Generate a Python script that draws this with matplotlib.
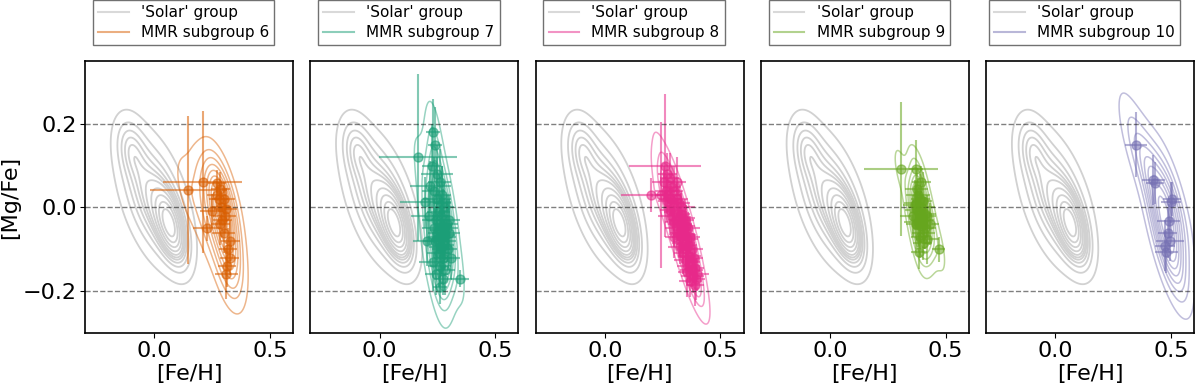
import numpy as np
import matplotlib.pyplot as plt
from matplotlib.lines import Line2D

# 'Solar' group density: a few gaussian blobs
solar_feh = [0.07, 0.0, -0.1]
solar_mgfe = [-0.045, 0.02, 0.14]
solar_sig_feh = [0.04, 0.08, 0.04]
solar_sig_mgfe = [0.05, 0.085, 0.045]
solar_rho = [-0.5, -0.5, -0.3]
solar_weight = [0.32, 0.6, 0.08]

# subgroup stars: [Fe/H], [Mg/Fe] and their errors
feh6 = [0.148, 0.209, 0.271, 0.286, 0.278, 0.300, 0.250, 0.310, 0.228, 0.286,
        0.329, 0.326, 0.314, 0.312, 0.290, 0.270, 0.300, 0.320, 0.305, 0.295]
mgfe6 = [0.042, 0.061, 0.059, 0.045, 0.020, 0.021, -0.008, -0.004, -0.050, -0.040,
         -0.079, -0.121, -0.139, -0.158, 0.000, 0.030, -0.060, -0.100, -0.020, -0.030]
feh6_err = [0.165, 0.170, 0.04, 0.04, 0.04, 0.05, 0.05, 0.05, 0.06, 0.04,
            0.04, 0.04, 0.04, 0.05, 0.04, 0.04, 0.05, 0.04, 0.05, 0.04]
mgfe6_err = [0.177, 0.170, 0.03, 0.04, 0.04, 0.04, 0.04, 0.05, 0.03, 0.05,
             0.05, 0.04, 0.05, 0.06, 0.04, 0.03, 0.05, 0.05, 0.04, 0.04]

feh7 = [0.231, 0.166, 0.248, 0.220, 0.198, 0.349, 0.240, 0.225, 0.260, 0.270,
        0.250, 0.280, 0.255, 0.265, 0.245, 0.290, 0.275, 0.235, 0.260, 0.300,
        0.285, 0.270, 0.250, 0.240, 0.280, 0.265, 0.295, 0.255, 0.275, 0.230,
        0.260, 0.285, 0.245, 0.270, 0.300, 0.250, 0.280, 0.265, 0.290, 0.310,
        0.215, 0.235, 0.205, 0.275, 0.260]
mgfe7 = [0.180, 0.120, 0.079, 0.051, 0.012, -0.170, 0.150, 0.100, 0.060, 0.030,
         0.020, 0.000, -0.010, -0.020, -0.030, -0.040, -0.045, -0.050, -0.055, -0.060,
         -0.065, -0.070, -0.075, -0.080, -0.090, -0.095, -0.100, -0.110, -0.120, -0.130,
         -0.140, -0.150, -0.160, 0.010, -0.030, -0.060, -0.080, -0.100, -0.050, -0.120,
         -0.020, 0.040, -0.080, -0.170, -0.190]
feh7_err = [0.03, 0.17, 0.07, 0.09, 0.11, 0.04, 0.03, 0.04, 0.05, 0.04,
            0.06, 0.04, 0.05, 0.04, 0.06, 0.05, 0.04, 0.05, 0.04, 0.05,
            0.04, 0.06, 0.04, 0.05, 0.04, 0.05, 0.04, 0.05, 0.04, 0.06,
            0.05, 0.04, 0.05, 0.04, 0.05, 0.04, 0.05, 0.04, 0.05, 0.04,
            0.08, 0.05, 0.06, 0.04, 0.03]
mgfe7_err = [0.08, 0.20, 0.07, 0.06, 0.06, 0.02, 0.09, 0.10, 0.08, 0.07,
             0.10, 0.06, 0.09, 0.05, 0.08, 0.06, 0.09, 0.07, 0.05, 0.08,
             0.06, 0.09, 0.05, 0.08, 0.06, 0.07, 0.05, 0.08, 0.06, 0.07,
             0.05, 0.06, 0.05, 0.09, 0.06, 0.07, 0.05, 0.06, 0.08, 0.05,
             0.07, 0.08, 0.06, 0.04, 0.04]

feh8 = [0.260, 0.270, 0.255, 0.280, 0.265, 0.290, 0.275, 0.300, 0.285, 0.270,
        0.310, 0.295, 0.320, 0.280, 0.305, 0.330, 0.290, 0.315, 0.340, 0.300,
        0.325, 0.350, 0.310, 0.335, 0.360, 0.320, 0.345, 0.330, 0.355, 0.370,
        0.340, 0.360, 0.325, 0.350, 0.375, 0.340, 0.365, 0.385, 0.350, 0.370,
        0.360, 0.390, 0.375, 0.355, 0.380, 0.395, 0.370, 0.390, 0.400, 0.345,
        0.310, 0.245, 0.300, 0.330, 0.200]
mgfe8 = [0.100, 0.080, 0.060, 0.070, 0.040, 0.050, 0.030, 0.040, 0.020, 0.015,
         0.020, 0.000, 0.010, -0.005, -0.010, -0.015, -0.020, -0.030, -0.025, -0.035,
         -0.040, -0.045, -0.050, -0.055, -0.050, -0.060, -0.065, -0.070, -0.075, -0.070,
         -0.085, -0.090, -0.095, -0.100, -0.100, -0.110, -0.115, -0.120, -0.125, -0.130,
         -0.140, -0.145, -0.150, -0.155, -0.165, -0.170, -0.175, -0.185, -0.160, -0.030,
         0.060, 0.030, -0.070, 0.000, 0.030]
feh8_err = [0.155, 0.04, 0.05, 0.04, 0.05, 0.04, 0.05, 0.04, 0.05, 0.04,
            0.05, 0.04, 0.05, 0.04, 0.05, 0.04, 0.06, 0.04, 0.05, 0.04,
            0.05, 0.04, 0.05, 0.04, 0.05, 0.04, 0.05, 0.04, 0.05, 0.04,
            0.05, 0.04, 0.05, 0.04, 0.05, 0.04, 0.05, 0.04, 0.05, 0.04,
            0.05, 0.04, 0.05, 0.04, 0.05, 0.04, 0.05, 0.04, 0.05, 0.04,
            0.04, 0.03, 0.04, 0.06, 0.130]
mgfe8_err = [0.170, 0.05, 0.04, 0.06, 0.04, 0.05, 0.04, 0.06, 0.04, 0.05,
             0.04, 0.05, 0.04, 0.06, 0.04, 0.05, 0.04, 0.05, 0.04, 0.06,
             0.04, 0.05, 0.04, 0.05, 0.04, 0.06, 0.04, 0.05, 0.04, 0.05,
             0.04, 0.06, 0.04, 0.05, 0.04, 0.05, 0.04, 0.06, 0.04, 0.05,
             0.04, 0.05, 0.04, 0.06, 0.04, 0.05, 0.04, 0.05, 0.04, 0.05,
             0.06, 0.175, 0.05, 0.04, 0.04]

feh9 = [0.306, 0.372, 0.386, 0.469, 0.380, 0.390, 0.370, 0.395, 0.400, 0.375,
        0.385, 0.410, 0.360, 0.390, 0.400, 0.420, 0.380, 0.395, 0.410, 0.370,
        0.405, 0.390, 0.420, 0.400, 0.375, 0.395, 0.365, 0.430]
mgfe9 = [0.091, 0.091, -0.107, -0.100, 0.030, 0.020, 0.010, 0.000, 0.015, -0.005,
         -0.010, -0.015, -0.020, -0.025, -0.030, -0.020, -0.035, -0.045, -0.050, -0.040,
         -0.060, -0.070, -0.075, -0.085, 0.045, 0.060, 0.005, -0.040]
feh9_err = [0.160, 0.030, 0.035, 0.030, 0.05, 0.04, 0.05, 0.06, 0.04, 0.05,
            0.04, 0.05, 0.06, 0.04, 0.05, 0.04, 0.06, 0.04, 0.05, 0.04,
            0.05, 0.04, 0.05, 0.04, 0.05, 0.04, 0.05, 0.04]
mgfe9_err = [0.160, 0.070, 0.040, 0.030, 0.04, 0.06, 0.05, 0.04, 0.07, 0.05,
             0.06, 0.04, 0.05, 0.06, 0.04, 0.05, 0.06, 0.04, 0.05, 0.06,
             0.04, 0.05, 0.06, 0.04, 0.05, 0.04, 0.06, 0.05]

feh10 = [0.347, 0.423, 0.430, 0.500, 0.491, 0.496, 0.474, 0.480, 0.485, 0.505]
mgfe10 = [0.150, 0.066, 0.059, 0.012, -0.032, -0.079, -0.091, -0.107, -0.060, 0.020]
feh10_err = [0.047, 0.050, 0.040, 0.045, 0.050, 0.060, 0.045, 0.050, 0.040, 0.040]
mgfe10_err = [0.077, 0.060, 0.050, 0.050, 0.040, 0.050, 0.060, 0.050, 0.060, 0.040]

groups = [
    ("MMR subgroup 6", "#d95f02", feh6, mgfe6, feh6_err, mgfe6_err),
    ("MMR subgroup 7", "#1b9e77", feh7, mgfe7, feh7_err, mgfe7_err),
    ("MMR subgroup 8", "#e7298a", feh8, mgfe8, feh8_err, mgfe8_err),
    ("MMR subgroup 9", "#66a61e", feh9, mgfe9, feh9_err, mgfe9_err),
    ("MMR subgroup 10", "#7570b3", feh10, mgfe10, feh10_err, mgfe10_err),
]

gx, gy = np.meshgrid(np.linspace(-0.3, 0.6, 260), np.linspace(-0.3, 0.35, 220))


def solar_density():
    z = np.zeros_like(gx)
    for mx, my, sx, sy, r, w in zip(solar_feh, solar_mgfe, solar_sig_feh,
                                     solar_sig_mgfe, solar_rho, solar_weight):
        dx = (gx - mx) / sx
        dy = (gy - my) / sy
        q = (dx ** 2 - 2 * r * dx * dy + dy ** 2) / (1 - r ** 2)
        z += w * np.exp(-0.5 * q) / (sx * sy * np.sqrt(1 - r ** 2))
    return z


def kde(x, y, bw_adjust=1.5):
    pts = np.vstack([x, y])
    cov = np.cov(pts) * pts.shape[1] ** (-1 / 3) * bw_adjust ** 2  # scott
    inv = np.linalg.inv(cov)
    dx = gx[..., None] - np.asarray(x)
    dy = gy[..., None] - np.asarray(y)
    q = inv[0, 0] * dx ** 2 + 2 * inv[0, 1] * dx * dy + inv[1, 1] * dy ** 2
    return np.exp(-0.5 * q).sum(-1)


def iso_levels(z, n=10, thresh=0.05):
    # seaborn style: levels enclosing a given fraction of the mass
    flat = np.sort(z.ravel())
    cum = np.cumsum(flat)
    cum /= cum[-1]
    fr = np.linspace(thresh, 1, n)[:-1]
    return np.unique(np.interp(fr, cum, flat))


zs = solar_density()
solar_lv = iso_levels(zs, n=12)

fig = plt.figure(figsize=(12, 3.88), dpi=100)
for i, (lab, col, fe, mg, fe_e, mg_e) in enumerate(groups):
    ax = fig.add_axes([0.0708 + i * 0.18775, 0.1418, 0.1733, 0.701])
    ax.contour(gx, gy, zs, levels=solar_lv, colors="0.82", linewidths=1.3)
    zk = kde(fe, mg)
    ax.contour(gx, gy, zk, levels=iso_levels(zk), colors=col,
               linewidths=1.1, alpha=0.45)
    ax.errorbar(fe, mg, xerr=fe_e, yerr=mg_e, fmt="o", color=col,
                markersize=6.5, elinewidth=1.5, alpha=0.55)
    for yv in [-0.2, 0.0, 0.2]:
        ax.axhline(yv, color="k", ls="--", lw=1, alpha=0.5)
    ax.set_xlim(-0.3, 0.6)
    ax.set_ylim(-0.3, 0.35)
    ax.set_xticks([0.0, 0.5])
    ax.tick_params(labelsize=16, pad=2.5)
    ax.set_xlabel("[Fe/H]", fontsize=16, labelpad=2)
    if i == 0:
        ax.set_yticks([-0.2, 0.0, 0.2])
        ax.set_ylabel("[Mg/Fe]", fontsize=16, labelpad=2)
    else:
        ax.set_yticks([])
    for s in ax.spines.values():
        s.set_linewidth(1.2)
    handles = [Line2D([], [], color="0.85", lw=1.5),
               Line2D([], [], color=col, lw=1.5, alpha=0.5)]
    ax.legend(handles, ["'Solar' group", lab], loc="lower center",
              bbox_to_anchor=(0.474, 1.03), fontsize=11, fancybox=False,
              edgecolor="0.3", borderaxespad=0.5, borderpad=0.35,
              labelspacing=0.3)

fig.savefig("out.png", dpi=100)
